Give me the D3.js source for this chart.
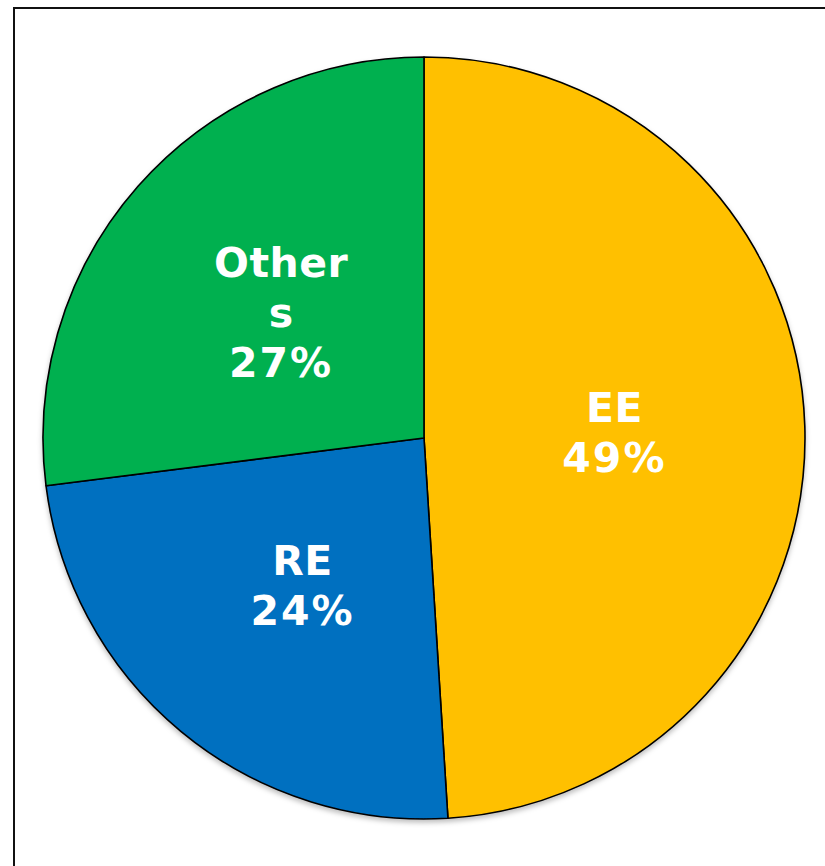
<!DOCTYPE html>
<html>
<head>
<meta charset="utf-8">
<script src="https://cdn.jsdelivr.net/npm/d3@7"></script>
<style>
  html, body { margin: 0; padding: 0; background: #fff; }
  svg { display: block; }
</style>
</head>
<body>
<svg id="chart" width="825" height="866"></svg>
<script>
// Share of items by category
const categories = ["EE", "RE", "Others"];
const values = [49, 24, 27];
const colors = ["#FFC000", "#0070C0", "#00B050"];

const W = 825, H = 866;
const cx = 424, cy = 438, R = 381;
const fontSize = 41, lineGap = 50, capH = 30, wrapWidth = 140;

const svg = d3.select("#chart");

// frame around the chart area
svg.append("rect")
  .attr("x", 14).attr("y", 8)
  .attr("width", W + 20).attr("height", H + 20)
  .attr("fill", "#fff")
  .attr("stroke", "#111")
  .attr("stroke-width", 2);

const defs = svg.append("defs");
const shadow = defs.append("filter").attr("id", "pieShadow")
  .attr("x", "-10%").attr("y", "-10%").attr("width", "120%").attr("height", "120%");
shadow.append("feDropShadow")
  .attr("dx", 0).attr("dy", 3).attr("stdDeviation", 2.5)
  .attr("flood-color", "#000").attr("flood-opacity", 0.25);

const pie = d3.pie().sort(null).value(d => d.value);
const data = categories.map((c, i) => ({ name: c, value: values[i], color: colors[i] }));
const arcs = pie(data);

const arc = d3.arc().innerRadius(0).outerRadius(R);
const labelArc = d3.arc().innerRadius(R * 0.5).outerRadius(R * 0.5);

const g = svg.append("g").attr("transform", `translate(${cx},${cy})`);

g.append("g").attr("filter", "url(#pieShadow)")
  .selectAll("path")
  .data(arcs)
  .join("path")
  .attr("d", arc)
  .attr("fill", d => d.data.color)
  .attr("stroke", "#000")
  .attr("stroke-width", 1.6)
  .attr("stroke-linejoin", "round");

// wrap a name into lines no wider than wrapWidth
const measure = svg.append("text")
  .attr("font-family", "DejaVu Sans, sans-serif")
  .attr("font-weight", "bold")
  .attr("font-size", fontSize)
  .attr("visibility", "hidden");

function wrapName(name) {
  const lines = [];
  let cur = "";
  for (const ch of name) {
    measure.text(cur + ch);
    if (cur && measure.node().getComputedTextLength() > wrapWidth) {
      lines.push(cur);
      cur = ch;
    } else {
      cur += ch;
    }
  }
  if (cur) lines.push(cur);
  return lines;
}

const labels = g.append("g")
  .selectAll("text")
  .data(arcs)
  .join("text")
  .attr("font-family", "DejaVu Sans, sans-serif")
  .attr("font-weight", "bold")
  .attr("font-size", fontSize)
  .attr("fill", "#fff")
  .attr("text-anchor", "middle");

labels.each(function(d) {
  const [lx, ly] = labelArc.centroid(d);
  const lines = wrapName(d.data.name).map(t => ({ t, pct: false }))
    .concat([{ t: d.data.value + "%", pct: true }]);
  const h = capH + (lines.length - 1) * lineGap;
  const top = ly - h / 2;
  d3.select(this).selectAll("tspan")
    .data(lines)
    .join("tspan")
    .attr("x", lx)
    .attr("y", (l, i) => top + capH + i * lineGap)
    .attr("letter-spacing", l => l.pct ? 2 : 0.5)
    .text(l => l.t);
});

measure.remove();
</script>
</body>
</html>
